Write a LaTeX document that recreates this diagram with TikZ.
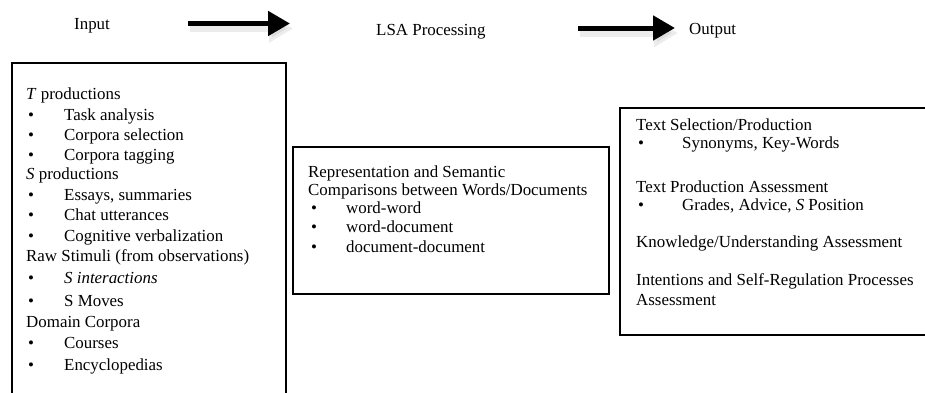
\documentclass[tikz,border=0pt]{standalone}
\usepackage{fontspec}
\setmainfont{Liberation Serif}
\usetikzlibrary{arrows.meta}
\begin{document}
\begin{tikzpicture}[x=1pt,y=-1pt,
  txt/.style={anchor=base west, inner sep=0pt, font=\fontsize{16.9}{20}\selectfont},
  framebox/.style={draw=black, line width=2pt, anchor=north west, inner sep=0pt},
  bigarrow/.style={line width=5pt, -{Triangle[length=22pt,width=24pt]}},
  arrowshadow/.style={line width=7pt, draw=black!30, opacity=0.25, -{Triangle[length=24pt,width=27pt]}}]
\useasboundingbox (0,0) rectangle (925,392);
\clip (0,0) rectangle (925,392);
\newcommand{\bl}[2]{\makebox[#1][l]{\textbullet}#2}
% header
\node[txt] (hin) at (74,29) {Input};
\node[txt] (hlsa) at (376,35.5) {LSA Processing};
\node[txt] (hout) at (689,34) {Output};
\coordinate (a1s) at (188,23.5);
\coordinate (a1e) at (290,23.5);
\coordinate (a2s) at (578,28);
\coordinate (a2e) at (675,28);
\draw[arrowshadow] ([shift={(2,5)}]a1s) -- ([shift={(3,5)}]a1e);
\draw[arrowshadow] ([shift={(2,5)}]a2s) -- ([shift={(3,5)}]a2e);
\draw[bigarrow] (a1s) -- (a1e);
\draw[bigarrow] (a2s) -- (a2e);
% boxes
\node[framebox, minimum width=274pt, minimum height=340pt] (inbox) at (11,62) {};
\node[framebox, minimum width=316pt, minimum height=147pt] (lsabox) at (292,146) {};
\node[framebox, minimum width=320pt, minimum height=227pt] (outbox) at (619,107) {};
% input box
\node[txt] (i1) at (26,99) {\textit{T} productions};
\node[txt] (i2) at (28,120) {\bl{36pt}{Task analysis}};
\node[txt] (i3) at (28,140) {\bl{36pt}{Corpora selection}};
\node[txt] (i4) at (28,160) {\bl{36pt}{Corpora tagging}};
\node[txt] (i5) at (26,179) {\textit{S} productions};
\node[txt] (i6) at (28,200) {\bl{36pt}{Essays, summaries}};
\node[txt] (i7) at (28,220.5) {\bl{36pt}{Chat utterances}};
\node[txt] (i8) at (28,241) {\bl{36pt}{Cognitive verbalization}};
\node[txt] (i9) at (26,261.5) {Raw Stimuli (from observations)};
\node[txt] (i10) at (28,283.5) {\bl{36pt}{\textit{S interactions}}};
\node[txt] (i11) at (28,306) {\bl{36pt}{S Moves}};
\node[txt] (i12) at (26,327) {Domain Corpora};
\node[txt] (i13) at (28,348.5) {\bl{36pt}{Courses}};
\node[txt] (i14) at (28,370) {\bl{36pt}{Encyclopedias}};
% LSA box
\node[txt] (m1) at (308,177) {Representation and Semantic};
\node[txt] (m2) at (308,195) {Comparisons between Words/Documents};
\node[txt] (m3) at (311,213) {\bl{35pt}{word-word}};
\node[txt] (m4) at (311,232) {\bl{35pt}{word-document}};
\node[txt] (m5) at (311,252) {\bl{35pt}{document-document}};
% output box
\node[txt] (o1) at (636,130) {Text Selection/Production};
\node[txt] (o2) at (638,148) {\bl{44pt}{Synonyms, Key-Words}};
\node[txt] (o3) at (636,192) {Text Production Assessment};
\node[txt] (o4) at (638,210) {\bl{44pt}{Grades, Advice, \textit{S} Position}};
\node[txt] (o5) at (636,247) {Knowledge/Understanding Assessment};
\node[txt] (o6) at (636,285) {Intentions and Self-Regulation Processes};
\node[txt] (o7) at (636,305) {Assessment};
\end{tikzpicture}
\end{document}
